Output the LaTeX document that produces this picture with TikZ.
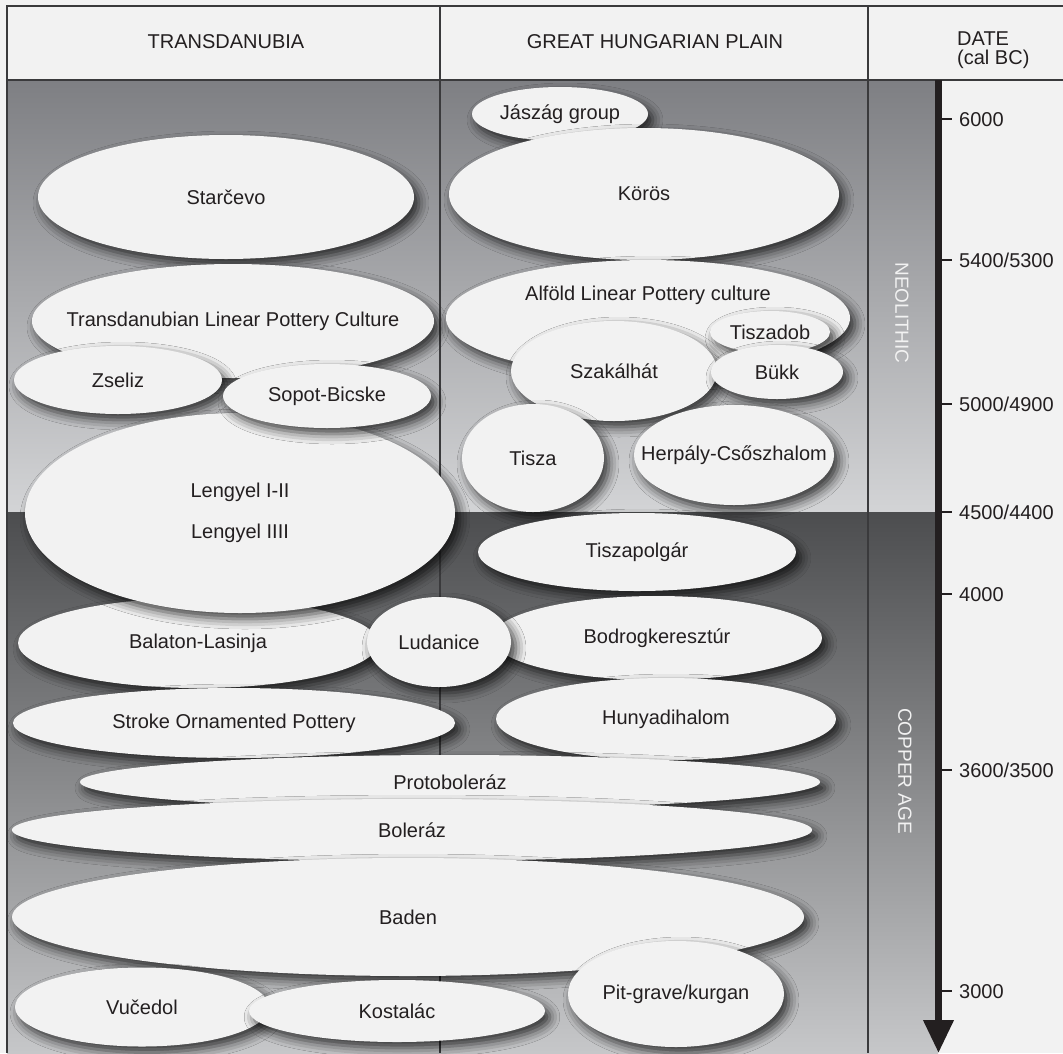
\documentclass[tikz,border=0pt]{standalone}
\usepackage{fontspec}
\setmainfont{Liberation Sans}
\usetikzlibrary{shapes.geometric,arrows.meta,shadows.blur}

\definecolor{paper}{HTML}{F2F2F2}
\definecolor{ink}{HTML}{231F20}
\definecolor{rule}{HTML}{3A3A3C}
\definecolor{neotop}{HTML}{7E7F83}
\definecolor{neobot}{HTML}{D3D4D6}
\definecolor{cutop}{HTML}{4C4D4F}
\definecolor{cubot}{HTML}{C6C7C9}

\newcommand{\nm}[1]{\makebox[0pt]{#1}}

\tikzset{
  culture/.style={ellipse, fill=paper, inner sep=0pt, text=ink,
    font=\fontsize{20}{24}\selectfont,
    blur shadow={shadow xshift=5pt, shadow yshift=-6pt, shadow blur radius=10pt, shadow opacity=75}},
  head/.style={text=ink, font=\fontsize{20}{18.5}\selectfont, inner sep=0pt},
  period/.style={rotate=-90, text=paper, font=\fontsize{19}{22}\selectfont, inner sep=0pt},
  datelbl/.style={anchor=west, text=ink, font=\fontsize{20}{24}\selectfont, inner sep=0pt,
    text height=14pt, text depth=0pt},
  frame/.style={draw=rule, line width=1.6pt},
  divider/.style={draw=rule, line width=1.1pt},
  timeaxis/.style={draw=ink, line width=7pt, -{Triangle[width=29pt,length=33pt]}},
  tick/.style={draw=ink, line width=2pt}
}

\begin{document}
\begin{tikzpicture}[x=1pt,y=-1pt]
\useasboundingbox (0,0) rectangle (1063,1053);
\fill[paper] (0,0) rectangle (1063,1053);
\shade[top color=neotop,bottom color=neobot] (7,80) rectangle (938,512);
\shade[top color=cutop,bottom color=cubot] (7,512) rectangle (938,1053);
\draw[frame] (7,1053) -- (7,6) -- (1063,6);
\draw[frame] (7,80) -- (1063,80);
\draw[divider] (440,6) -- (440,1053);
\draw[divider] (868,6) -- (868,1053);

\node[head] (htrans) at (226,42) {TRANSDANUBIA};
\node[head] (hplain) at (655,42) {GREAT HUNGARIAN PLAIN};
\node[head, anchor=west, align=left] (hdate) at (957,50) {DATE\\(cal BC)};

\node[culture, minimum width=376pt, minimum height=124pt] (starcevo) at (226,197) {\nm{Starčevo}};
\node[culture, minimum width=402pt, minimum height=114pt] (tlpc) at (233,321) {\nm{Transdanubian Linear Pottery Culture}};
\node[culture, minimum width=208pt, minimum height=68pt] (zseliz) at (118,380) {\nm{Zseliz}};
\node[culture, minimum width=360pt, minimum height=90pt] (balaton) at (198,643) {\nm{Balaton-Lasinja}};
\node[culture, minimum width=430pt, minimum height=200pt] (lengyel) at (240,513) {\nm{\begin{tabular}{@{}c@{}}Lengyel I-II\\[17pt]Lengyel IIII\end{tabular}}};
\node[culture, minimum width=208pt, minimum height=64pt] (sopot) at (327,396) {\nm{Sopot-Bicske}};

\node[culture, minimum width=176pt, minimum height=54pt] (jaszag) at (560,114) {\nm{Jászág group}};
\node[culture, minimum width=390pt, minimum height=132pt] (koros) at (644,194) {\nm{Körös}};
\node[culture, minimum width=404pt, minimum height=116pt] (alfold) at (648,318) {};
\node[head, font=\fontsize{20}{24}\selectfont] (alfoldname) at (648,295) {Alföld Linear Pottery culture};
\node[culture, minimum width=120pt, minimum height=42pt] (tiszadob) at (770,332) {\nm{Tiszadob}};
\node[culture, minimum width=206pt, minimum height=100pt] (szakalhat) at (614,371) {\nm{Szakálhát}};
\node[culture, minimum width=132pt, minimum height=54pt] (bukk) at (777,372) {\nm{Bükk}};
\node[culture, minimum width=142pt, minimum height=108pt] (tisza) at (533,458) {\nm{Tisza}};
\node[culture, minimum width=200pt, minimum height=100pt] (herpaly) at (734,455) {\nm{Herpály-Csőszhalom}};
\node[culture, minimum width=318pt, minimum height=78pt] (tiszapolgar) at (637,552) {\nm{Tiszapolgár}};
\node[culture, minimum width=330pt, minimum height=84pt] (bodrog) at (657,638) {\nm{Bodrogkeresztúr}};
\node[culture, minimum width=144pt, minimum height=90pt] (ludanice) at (439,642) {\nm{Ludanice}};
\node[culture, minimum width=340pt, minimum height=82pt] (hunyadi) at (666,719) {\nm{Hunyadihalom}};
\node[culture, minimum width=442pt, minimum height=70pt] (stroke) at (234,723) {\nm{Stroke Ornamented Pottery}};

\node[culture, minimum width=740pt, minimum height=54pt] (protoboleraz) at (450,782) {\nm{Protoboleráz}};
\node[culture, minimum width=800pt, minimum height=62pt] (boleraz) at (412,830) {\nm{Boleráz}};
\node[culture, minimum width=792pt, minimum height=118pt] (baden) at (408,917) {\nm{Baden}};
\node[culture, minimum width=254pt, minimum height=79pt] (vucedol) at (142,1007) {\nm{Vučedol}};
\node[culture, minimum width=296pt, minimum height=62pt] (kostalac) at (397,1011) {\nm{Kostalác}};
\node[culture, minimum width=216pt, minimum height=106pt] (pitgrave) at (676,994) {\nm{Pit-grave/kurgan}};

\node[period] (neolithic) at (902,313) {NEOLITHIC};
\node[period] (copperage) at (905,771) {COPPER AGE};

\coordinate (axtop) at (938.5,80);
\coordinate (axend) at (938.5,1053);
\draw[timeaxis] (axtop) -- (axend);
\foreach \y/\t in {119/6000, 260/{5400/5300}, 404/{5000/4900}, 512/{4500/4400}, 594/4000, 770/{3600/3500}, 991/3000}{
  \draw[tick] (942,\y) -- (952,\y);
  \node[datelbl] (d\y) at (959,\y) {\t};
}
\end{tikzpicture}
\end{document}
